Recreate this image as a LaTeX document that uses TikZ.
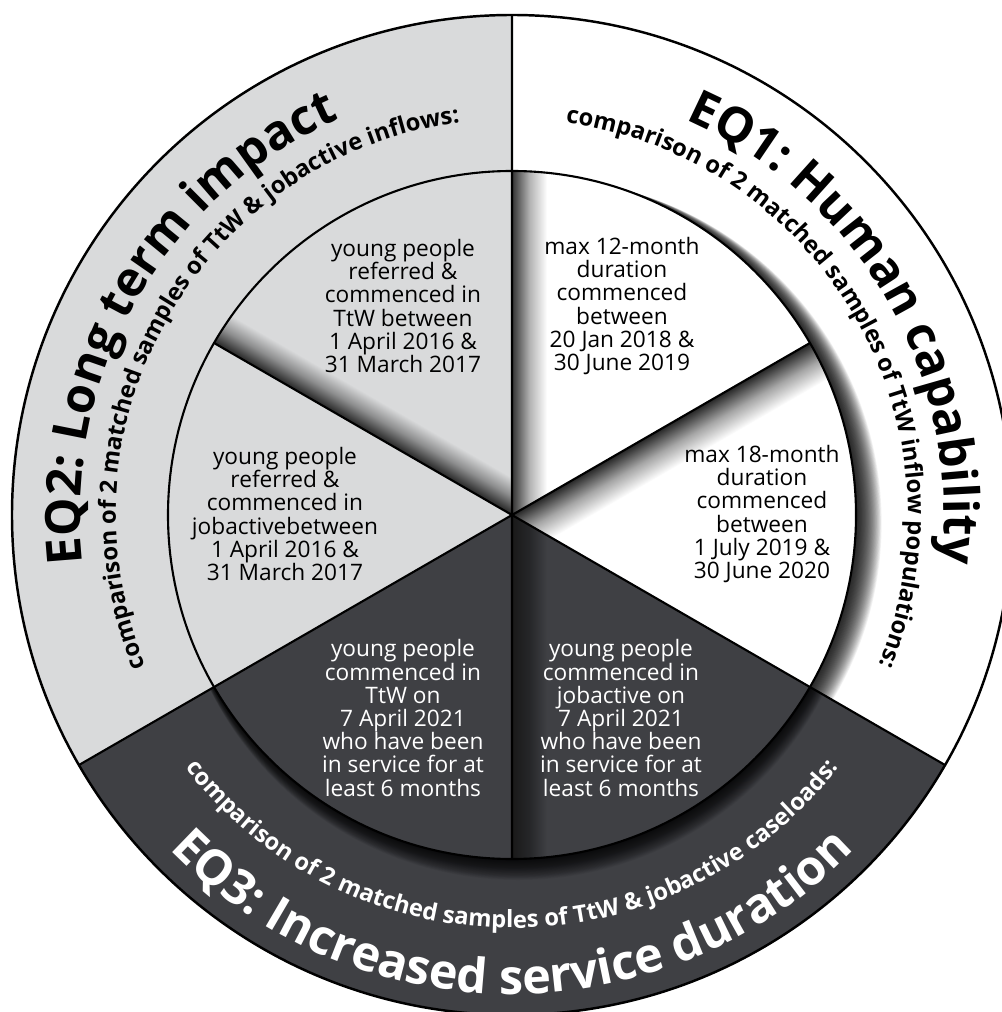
\documentclass[tikz,border=0pt]{standalone}
\usepackage{fontspec}
\setmainfont{Open Sans}
\usetikzlibrary{decorations.text}

\definecolor{eqlight}{RGB}{217,218,219}
\definecolor{eqdark}{RGB}{63,64,68}

\newcommand{\rin}{6.88}
\newcommand{\rout}{10}
\newcommand{\titlefont}{\bfseries\fontsize{27.6}{30}\selectfont}
\newcommand{\subfont}{\bfseries\fontsize{13.5}{15}\selectfont}

\begin{document}
\begin{tikzpicture}[thick,
    cell/.style={align=center, inner sep=0pt, font=\fontsize{12.9}{13.2}\selectfont},
    edge/.style={line width=1.2pt},
    ]
    \useasboundingbox (-10.24,-9.94) rectangle (9.78,10.30);
    \coordinate (c) at (0,0);

    \fill[eqlight] (c) -- (90:\rout) arc[start angle=90, end angle=210, radius=\rout] -- cycle;
    \fill[white] (c) -- (-30:\rout) arc[start angle=-30, end angle=90, radius=\rout] -- cycle;
    \fill[eqdark] (c) -- (210:\rout) arc[start angle=210, end angle=330, radius=\rout] -- cycle;

    % shadow of the inner disc on the ring
    \begin{scope}
        \clip (c) -- (-30:\rout) arc[start angle=-30, end angle=90, radius=\rout] -- cycle;
        \foreach \k in {1,...,32}
            \fill[black, opacity=0.05] (\k*0.016,-\k*0.005) circle (\rin);
    \end{scope}
    \begin{scope}
        \clip (c) -- (210:\rout) arc[start angle=210, end angle=330, radius=\rout] -- cycle;
        \foreach \k in {1,...,30}
            \fill[black, opacity=0.045] (\k*0.004,-\k*0.014) circle (\rin);
    \end{scope}

    \fill[eqlight] (c) -- (90:\rin) arc[start angle=90, end angle=210, radius=\rin] -- cycle;
    \fill[white] (c) -- (-30:\rin) arc[start angle=-30, end angle=90, radius=\rin] -- cycle;
    \fill[eqdark] (c) -- (210:\rin) arc[start angle=210, end angle=330, radius=\rin] -- cycle;

    % shadows along the dividing lines
    \begin{scope}
        \clip (c) -- (90:\rin) arc[start angle=90, end angle=150, radius=\rin] -- cycle;
        \begin{scope}[transform canvas={rotate=150}]
            \shade[top color=black!85, bottom color=eqlight, middle color=black!35!eqlight]
                (0,0) rectangle (\rin,-0.65);
        \end{scope}
    \end{scope}
    \begin{scope}
        \clip (c) -- (30:\rin) arc[start angle=30, end angle=90, radius=\rin] -- cycle;
        \shade[left color=black!80, right color=white, middle color=black!30]
            (0,0) rectangle (0.7,\rin);
    \end{scope}
    \begin{scope}
        \clip (c) -- (-30:\rin) arc[start angle=-30, end angle=30, radius=\rin] -- cycle;
        \begin{scope}[transform canvas={rotate=30}]
            \shade[top color=black!85, bottom color=white, middle color=black!35]
                (0,0) rectangle (\rin,-0.8);
        \end{scope}
    \end{scope}
    \begin{scope}
        \clip (c) -- (270:\rin) arc[start angle=270, end angle=330, radius=\rin] -- cycle;
        \shade[left color=black!90, right color=eqdark, middle color=black!40!eqdark]
            (0,-\rin) rectangle (0.7,0);
    \end{scope}

    \draw[edge] (c) -- (90:\rout) (c) -- (210:\rout) (c) -- (330:\rout)
        (c) -- (30:\rin) (c) -- (150:\rin) (c) -- (270:\rin);
    \draw[edge] (c) circle (\rin);
    \draw[line width=1.4pt] (c) circle (\rout);

    \node[cell] (1) at (-2.18,4.18) {young people\\referred \&\\commenced in\\TtW between\\1 April 2016 \&\\31 March 2017};
    \node[cell] (2) [right of = 1, node distance=4.38cm] {max 12-month\\duration\\commenced\\between\\20 Jan 2018 \&\\30 June 2019};
    \node[cell] (3) at (-4.54,0.02) {young people\\referred \&\\commenced in\\jobactivebetween\\1 April 2016 \&\\31 March 2017};
    \node[cell] (4) [right of = 3, node distance=9.54cm] {max 18-month\\duration\\commenced\\between\\1 July 2019 \&\\30 June 2020};
    \node[cell, text=white] (5) [below of = 1, node distance=8.24cm] {young people\\commenced in\\TtW on\\7 April 2021\\who have been\\in service for at\\least 6 months};
    \node[cell, text=white] (6) [right of = 5, node distance=4.36cm] {young people\\commenced in\\jobactive on\\7 April 2021\\who have been\\in service for at\\least 6 months};

    \path[decorate, decoration={text along path, text align=center,
        text={|\titlefont|EQ1: Human capability}}]
        (110:8.64) arc[start angle=110, end angle=-50, radius=8.64];
    \path[decorate, decoration={text along path, text align=center,
        text={|\subfont|comparison of 2 matched samples of TtW inflow populations:}}]
        (120:7.92) arc[start angle=120, end angle=-60, radius=7.92];
    \path[decorate, decoration={text along path, text align=center,
        text={|\titlefont|EQ2: Long term impact}}]
        (230:8.64) arc[start angle=230, end angle=70, radius=8.64];
    \path[decorate, decoration={text along path, text align=center,
        text={|\subfont|comparison of 2 matched samples of TtW {\&} jobactive inflows:}}]
        (240:7.92) arc[start angle=240, end angle=60, radius=7.92];
    \path[decorate, decoration={text along path, text align=center, text color=white,
        text={|\titlefont|EQ3: Increased service duration}}]
        (190:9.58) arc[start angle=190, end angle=350, radius=9.58];
    \path[decorate, decoration={text along path, text align=center, text color=white,
        text={|\subfont|comparison of 2 matched samples of TtW {\&} jobactive caseloads:}}]
        (180:8.26) arc[start angle=180, end angle=360, radius=8.26];
\end{tikzpicture}
\end{document}
